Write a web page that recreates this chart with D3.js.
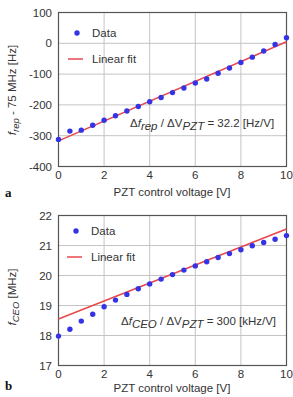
<!DOCTYPE html>
<html><head><meta charset="utf-8">
<script src="https://cdn.jsdelivr.net/npm/d3@7"></script>
<style>body{margin:0;background:#fff;} svg{display:block;font-family:"Liberation Sans",Arial,sans-serif;}</style>
</head><body>
<svg id="c" width="293" height="397"></svg>
<script>
const voltage = [0,0.5,1,1.5,2,2.5,3,3.5,4,4.5,5,5.5,6,6.5,7,7.5,8,8.5,9,9.5,10];
const frepData = [-312,-285,-282,-266,-250,-235,-220,-205,-190,-176,-160,-145,-129,-116,-97,-80,-62,-45,-25,-4,18];
const frepFit = [[0,-317],[10,5]];
const fceoData = [17.98,18.21,18.48,18.71,18.96,19.18,19.37,19.56,19.72,19.88,20.03,20.18,20.32,20.46,20.6,20.73,20.86,20.99,21.1,21.21,21.33];
const fceoFit = [[0,18.55],[10,21.55]];
const xTicks = [0,2,4,6,8,10];
const frepTicks = [100,0,-100,-200,-300,-400];
const fceoTicks = [22,21,20,19,18,17];

const svg = d3.select("#c");
const x = d3.scaleLinear().domain([0,10]).range([58.5,286.5]);

function panel(opt){
  const y = d3.scaleLinear().domain(opt.domain).range([opt.y1, opt.y0]);
  const g = svg.append("g");
  g.selectAll(".gx").data(xTicks).enter().append("line")
    .attr("x1",d=>x(d)).attr("x2",d=>x(d)).attr("y1",opt.y0).attr("y2",opt.y1)
    .attr("stroke","#c4c4c4").attr("stroke-width",1);
  g.selectAll(".gy").data(opt.ticks).enter().append("line")
    .attr("x1",x(0)).attr("x2",x(10)).attr("y1",d=>y(d)).attr("y2",d=>y(d))
    .attr("stroke","#c4c4c4").attr("stroke-width",1);
  g.append("rect").attr("x",x(0)).attr("y",opt.y0).attr("width",x(10)-x(0)).attr("height",opt.y1-opt.y0)
    .attr("fill","none").attr("stroke","#555").attr("stroke-width",1.2);
  g.selectAll(".ty").data(opt.ticks).enter().append("text")
    .attr("x",52).attr("y",d=>y(d)+4).attr("text-anchor","end")
    .attr("font-size",11.5).attr("fill","#333").text(d=>d);
  g.selectAll(".tx").data(xTicks).enter().append("text")
    .attr("x",d=>x(d)).attr("y",opt.y1+12).attr("text-anchor","middle")
    .attr("font-size",11.5).attr("fill","#333").text(d=>d);
  g.append("text").attr("x",172).attr("y",opt.xty).attr("text-anchor","middle")
    .attr("font-size",11.5).attr("fill","#333").text("PZT control voltage [V]");
  g.append("text").attr("x",5).attr("y",opt.lety).attr("font-family","'Liberation Serif',serif")
    .attr("font-weight","bold").attr("font-size",13).attr("fill","#111").text(opt.letter);
  const yt = g.append("text").attr("transform",`translate(16,${opt.ymid}) rotate(-90)`)
    .attr("text-anchor","middle").attr("font-size",11.5).attr("fill","#333");
  opt.ytitle(yt);
  g.append("line").attr("x1",x(opt.fit[0][0])).attr("y1",y(opt.fit[0][1]))
    .attr("x2",x(opt.fit[1][0])).attr("y2",y(opt.fit[1][1]))
    .attr("stroke","#e8474c").attr("stroke-width",1.5);
  g.selectAll(".pt").data(opt.data).enter().append("circle")
    .attr("cx",(d,i)=>x(voltage[i])).attr("cy",d=>y(d)).attr("r",2.7).attr("fill","#3434e6");
  g.append("circle").attr("cx",opt.lx+9).attr("cy",opt.ly).attr("r",2.7).attr("fill","#3434e6");
  g.append("text").attr("x",opt.lx+24).attr("y",opt.ly+4).attr("font-size",11.5).attr("fill","#333").text("Data");
  g.append("line").attr("x1",opt.lx).attr("x2",opt.lx+15).attr("y1",opt.ly+26).attr("y2",opt.ly+26)
    .attr("stroke","#e8474c").attr("stroke-width",1.5);
  g.append("text").attr("x",opt.lx+24).attr("y",opt.ly+30).attr("font-size",11.5).attr("fill","#333").text("Linear fit");
  const an = g.append("text").attr("x",opt.ax).attr("y",opt.ay).attr("font-size",11.5).attr("fill","#333");
  opt.annot(an);
}

panel({domain:[-400,100], ticks:frepTicks, y0:12.5, y1:166.5, ymid:90, letter:"a", lety:197, xty:196,
  data:frepData, fit:frepFit, lx:68, ly:33, ax:130, ay:127,
  ytitle:t=>{ t.append("tspan").attr("font-style","italic").text("f");
    t.append("tspan").attr("font-style","italic").attr("font-size",9.5).attr("dy",3).text("rep");
    t.append("tspan").attr("dy",-3).text(" - 75 MHz [Hz]"); },
  annot:t=>{ t.append("tspan").text("Δ"); t.append("tspan").attr("font-style","italic").text("f");
    t.append("tspan").attr("font-style","italic").attr("dy",3).text("rep");
    t.append("tspan").attr("dy",-3).text(" / ΔV");
    t.append("tspan").attr("font-style","italic").attr("dy",3).text("PZT");
    t.append("tspan").attr("dy",-3).text(" = 32.2 [Hz/V]"); }
});
panel({domain:[17,22], ticks:fceoTicks, y0:215.5, y1:365.5, ymid:297, letter:"b", lety:390, xty:392,
  data:fceoData, fit:fceoFit, lx:67, ly:231, ax:121, ay:325,
  ytitle:t=>{ t.append("tspan").attr("font-style","italic").text("f");
    t.append("tspan").attr("font-style","italic").attr("font-size",9.5).attr("dy",3).text("CEO");
    t.append("tspan").attr("dy",-3).text("  [MHz]"); },
  annot:t=>{ t.append("tspan").text("Δ"); t.append("tspan").attr("font-style","italic").text("f");
    t.append("tspan").attr("font-style","italic").attr("dy",3).text("CEO");
    t.append("tspan").attr("dy",-3).text(" / ΔV");
    t.append("tspan").attr("font-style","italic").attr("dy",3).text("PZT");
    t.append("tspan").attr("dy",-3).text(" = 300 [kHz/V]"); }
});
</script>
</body></html>
